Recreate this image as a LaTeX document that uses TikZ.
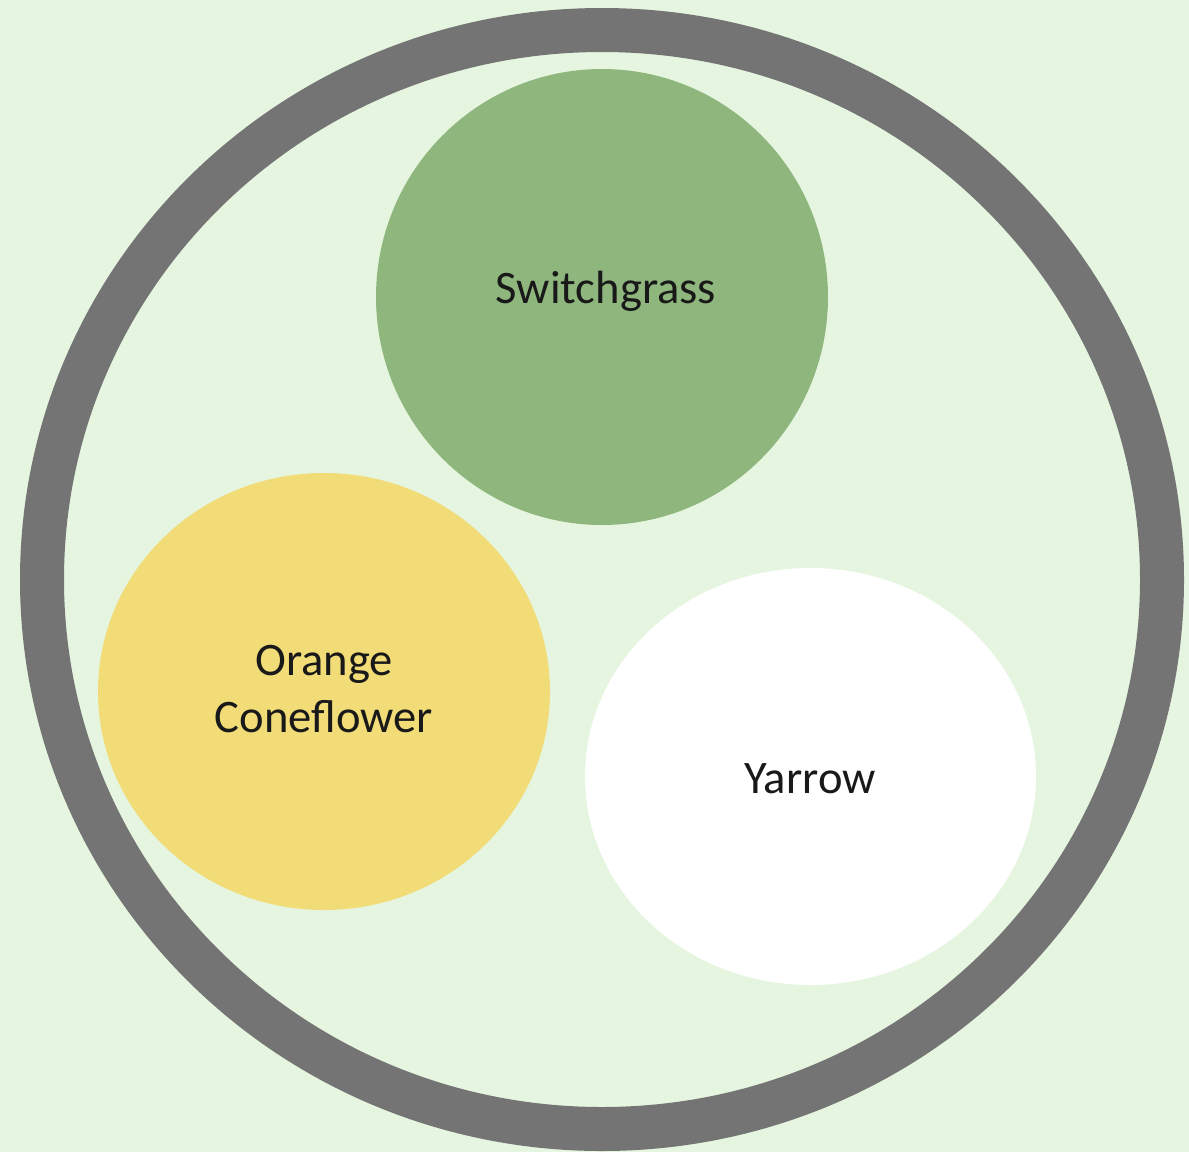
\documentclass[tikz,border=0pt]{standalone}
\usepackage{fontspec}
\setmainfont{Carlito}
\usetikzlibrary{shapes.geometric, positioning}
\definecolor{meadowbg}{RGB}{230, 245, 224}
\definecolor{ringgray}{RGB}{116, 116, 116}
\definecolor{grassgreen}{RGB}{143, 183, 125}
\definecolor{coneyellow}{RGB}{241, 220, 120}

\tikzset{
  plant/.style={ellipse, inner sep=0pt, draw=none},
  plantlabel/.style={font=\fontsize{46.6}{57}\selectfont, text=black!90, inner sep=0pt, align=center}
}

\begin{document}
\begin{tikzpicture}[x=1pt, y=-1pt]
        % Background (garden bed)
        \fill[meadowbg] (0,0) rectangle (1189,1152);
        \useasboundingbox (0,0) rectangle (1189,1152);

        % Outer border ring
        \draw[ringgray, line width=44pt] (602,579.5) ellipse [x radius=560, y radius=549.5];

        % Plants
        \node[plant, fill=grassgreen, minimum width=452pt, minimum height=456pt] (grass) at (602,297) {};
        \node[plant, fill=coneyellow, minimum width=452pt, minimum height=437pt] (cone) at (324,691.5) {};
        \node[plant, fill=white, minimum width=451pt, minimum height=417pt] (yarrow) at (810.5,776.5) {};

        % Labels
        \node[plantlabel, anchor=base] (grasstext) at (606,303) {Switchgrass};
        \node[plantlabel, anchor=base] (conetext) at (324,732) {Orange\\Coneflower};
        \node[plantlabel, anchor=base] (yarrowtext) at (810,793) {Yarrow};
\end{tikzpicture}
\end{document}
